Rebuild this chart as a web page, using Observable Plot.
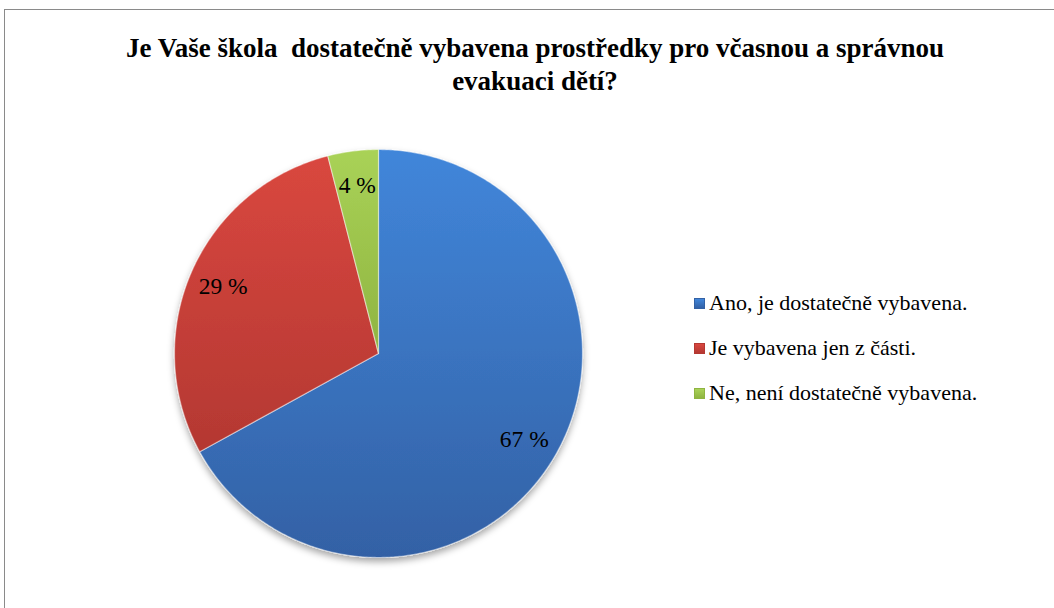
<!DOCTYPE html>
<html>
<head>
<meta charset="utf-8">
<script src="https://cdn.jsdelivr.net/npm/d3@7"></script>
<script src="https://cdn.jsdelivr.net/npm/@observablehq/plot@0.6"></script>
<style>
  html, body { margin: 0; padding: 0; background: #fff; overflow: hidden; }
  #wrap { position: relative; width: 1054px; height: 608px; overflow: hidden; }
  #frame { position: absolute; left: 4px; top: 9px; width: 1100px; height: 700px; border: 1.5px solid #8a8a8a; box-sizing: border-box; }
  #title { position: absolute; left: 0; top: 32px; width: 1070px; text-align: center; font-family: "Liberation Serif", "Times New Roman", serif; font-weight: bold; font-size: 27px; line-height: 33px; white-space: pre; color: #000; }
  #chart { position: absolute; left: 0; top: 0; }
  #legend { position: absolute; left: 694px; top: 289px; font-family: "Liberation Serif", "Times New Roman", serif; font-size: 22px; color: #000; }
  .row { position: absolute; left: 0; height: 28px; display: flex; align-items: center; white-space: nowrap; }
  .sw { width: 11px; height: 11px; margin-right: 4px; box-sizing: border-box; }
</style>
</head>
<body>
<div id="wrap">
  <div id="frame"></div>
  <div id="chart"></div>
  <div id="title"></div>
  <div id="legend"></div>
</div>
<script>
const titleLines = ["Je Vaše škola  dostatečně vybavena prostředky pro včasnou a správnou", "evakuaci dětí?"];
const categories = ["Ano, je dostatečně vybavena.", "Je vybavena jen z části.", "Ne, není dostatečně vybavena."];
const values = [67, 29, 4];
const valueLabels = ["67 %", "29 %", "4 %"];
const colorsTop = ["#4186da", "#d9473f", "#a9d257"];
const colorsBottom = ["#3361a5", "#b43832", "#8fb441"];
const gradIds = ["gBlue", "gRed", "gGreen"];

document.getElementById("title").textContent = titleLines.join("\n");

const pie = d3.pie().sort(null).value(d => d.value)(categories.map((c, i) => ({key: c, value: values[i], label: valueLabels[i]})));

const pts = [];
for (const s of pie) {
  pts.push({key: s.data.key, x: 0, y: 0});
  const n = Math.max(8, Math.ceil((s.endAngle - s.startAngle) / 0.01));
  for (let k = 0; k <= n; k++) {
    const a = s.startAngle + (s.endAngle - s.startAngle) * k / n;
    pts.push({key: s.data.key, x: Math.sin(a), y: Math.cos(a)});
  }
  pts.push({key: s.data.key, x: 0, y: 0});
}
const labelPts = pie.map(s => {
  const a = (s.startAngle + s.endAngle) / 2;
  const r = 0.83;
  return {text: s.data.label, x: r * Math.sin(a), y: r * Math.cos(a)};
});

const cx = 378, cy = 353, R = 204, W = 1054, H = 608;
const plot = Plot.plot({
  width: W, height: H,
  marginLeft: cx - R, marginRight: W - (cx + R),
  marginTop: cy - R, marginBottom: H - (cy + R),
  x: {domain: [-1, 1], axis: null},
  y: {domain: [-1, 1], axis: null},
  color: {domain: categories, range: gradIds.map(id => `url(#${id})`)},
  style: {background: "transparent", overflow: "visible"},
  marks: [
    Plot.line(pts, {x: "x", y: "y", z: "key", fill: "key", stroke: "#ffffff", strokeOpacity: 0.45, strokeWidth: 1.2, strokeLinejoin: "round"}),
    Plot.text(labelPts, {x: "x", y: "y", text: "text", fontSize: 23.5, fontFamily: "Liberation Serif, Times New Roman, serif", fill: "#000"})
  ]
});

const ns = "http://www.w3.org/2000/svg";
const defs = document.createElementNS(ns, "defs");
let defsHtml = "";
gradIds.forEach((id, i) => {
  defsHtml += `<linearGradient id="${id}" x1="0" y1="0" x2="0" y2="1"><stop offset="0" stop-color="${colorsTop[i]}"/><stop offset="1" stop-color="${colorsBottom[i]}"/></linearGradient>`;
});
defsHtml += `<filter id="shadow" x="-20%" y="-20%" width="140%" height="140%"><feDropShadow dx="0" dy="4" stdDeviation="3.5" flood-color="#000" flood-opacity="0.35"/></filter>`;
defs.innerHTML = defsHtml;
plot.insertBefore(defs, plot.firstChild);
const lineG = plot.querySelector('g[aria-label="line"]');
if (lineG) lineG.setAttribute("filter", "url(#shadow)");
document.getElementById("chart").appendChild(plot);

const legend = document.getElementById("legend");
categories.forEach((c, i) => {
  const row = document.createElement("div");
  row.className = "row";
  row.style.top = (i * 45) + "px";
  const sw = document.createElement("div");
  sw.className = "sw";
  sw.style.background = `linear-gradient(${colorsTop[i]}, ${colorsBottom[i]})`;
  sw.style.border = `1px solid ${colorsBottom[i]}`;
  const t = document.createElement("span");
  t.textContent = c;
  row.appendChild(sw);
  row.appendChild(t);
  legend.appendChild(row);
});
</script>
</body>
</html>
